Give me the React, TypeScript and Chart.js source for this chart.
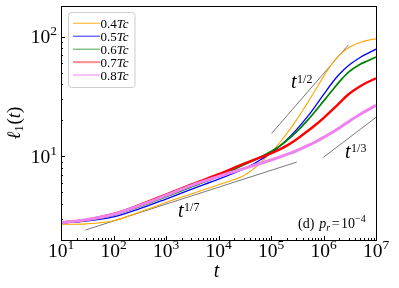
import React, { useEffect, useRef } from "react";
import { Chart, registerables } from "chart.js";

Chart.register(...registerables);

// ---- data ----
const times = [10, 30, 100, 300, 1e3, 3e3, 1e4, 3e4, 5e4, 1e5, 1.5e5, 2e5, 3e5, 5e5, 7e5, 1e6, 1.5e6, 2e6, 3e6, 5e6, 7e6, 1e7];
const series04 = [2.7, 2.73, 2.9, 3.4, 4.12, 4.85, 5.8, 6.9, 8.05, 10.8, 13.2, 15.5, 19.9, 28.2, 35.9, 46.5, 60.4, 70.2, 81.1, 89.7, 93.4, 96.2];
const series05 = [2.77, 2.88, 3.12, 3.62, 4.4, 5.3, 6.45, 7.87, 8.81, 10.7, 12.3, 13.8, 16.6, 21.6, 26.3, 32.8, 41.9, 48.6, 57.6, 67.2, 72.8, 78.8];
const series06 = [2.79, 2.93, 3.23, 3.78, 4.6, 5.55, 6.8, 8.47, 9.38, 11.0, 12.3, 13.6, 15.9, 20.1, 23.9, 29.0, 36.1, 42.0, 50.6, 59.0, 63.1, 67.8];
const series07 = [2.8, 2.95, 3.3, 3.9, 4.8, 5.8, 7.1, 8.65, 9.44, 10.6, 11.5, 12.3, 13.8, 16.3, 18.3, 20.9, 24.7, 27.9, 33.1, 38.6, 41.9, 45.0];
const series08 = [2.8, 2.95, 3.28, 3.86, 4.72, 5.7, 6.8, 7.9, 8.47, 9.33, 9.91, 10.4, 11.1, 12.3, 13.2, 14.4, 16.0, 17.3, 19.5, 22.5, 24.5, 26.7];
const tempFactors = ["0.4", "0.5", "0.6", "0.7", "0.8"];
const seriesColors = ["#FFA500", "#0000FF", "#008000", "#FF0000", "#EE82EE"];
const legendColors = ["rgba(255,165,0,0.75)", "rgba(0,0,255,0.7)", "rgba(0,128,0,0.6)", "rgba(255,0,0,0.45)", "rgba(238,130,238,0.5)"];
const seriesWidths = [1.1, 1.3, 1.7, 2.4, 3.0];

// guide power-law lines: endpoints
const guide17T = [29, 3.1e5];
const guide17V = [2.42, 8.97];
const guide12T = [1.03e5, 2.97e6];
const guide12V = [15.6, 85.3];
const guide13T = [1e6, 1e7];
const guide13V = [9.85, 21.2];

const xTickExps = [1, 2, 3, 4, 5, 6, 7];
const yTickExps = [1, 2];
const xMin = 10, xMax = 1e7, yMin = 2.0, yMax = 181;

const SERIF = '"Liberation Serif", "DejaVu Serif", "Times New Roman", serif';

type Part = { s: string; size: number; italic?: boolean; dy?: number; dx?: number };

function fontOf(p: Part) {
  return `${p.italic ? "italic " : ""}${p.size}px ${SERIF}`;
}

function drawRich(ctx: CanvasRenderingContext2D, parts: Part[], x: number, y: number, align: "left" | "center" | "right") {
  let w = 0;
  for (const p of parts) {
    ctx.font = fontOf(p);
    w += ctx.measureText(p.s).width + (p.dx || 0);
  }
  let cx = align === "left" ? x : align === "center" ? x - w / 2 : x - w;
  ctx.textAlign = "left";
  ctx.textBaseline = "alphabetic";
  for (const p of parts) {
    cx += p.dx || 0;
    ctx.font = fontOf(p);
    ctx.fillText(p.s, cx, y + (p.dy || 0));
    cx += ctx.measureText(p.s).width;
  }
}

const decorPlugin = {
  id: "decor",
  afterDraw(chart: any) {
    const ctx: CanvasRenderingContext2D = chart.ctx;
    const xs = chart.scales.x;
    const ys = chart.scales.y;
    const a = chart.chartArea;
    ctx.save();
    // frame
    ctx.strokeStyle = "#000";
    ctx.lineWidth = 1;
    ctx.strokeRect(Math.round(a.left) + 0.5, Math.round(a.top) + 0.5, Math.round(a.right - a.left), Math.round(a.bottom - a.top));
    // x ticks
    ctx.beginPath();
    for (let k = 1; k <= 7; k++) {
      for (let m = 1; m <= 9; m++) {
        const v = m * Math.pow(10, k);
        if (v < xMin || v > xMax) continue;
        const px = Math.round(xs.getPixelForValue(v)) + 0.5;
        const len = m === 1 ? 4 : 2;
        ctx.moveTo(px, a.bottom);
        ctx.lineTo(px, a.bottom - len);
      }
    }
    // y ticks
    for (let k = 0; k <= 2; k++) {
      for (let m = 1; m <= 9; m++) {
        const v = m * Math.pow(10, k);
        if (v < yMin || v > yMax) continue;
        const py = Math.round(ys.getPixelForValue(v)) + 0.5;
        const len = m === 1 ? 4 : 2;
        ctx.moveTo(a.left, py);
        ctx.lineTo(a.left + len, py);
      }
    }
    ctx.stroke();

    ctx.fillStyle = "#000";
    // x tick labels
    for (const e of xTickExps) {
      const px = xs.getPixelForValue(Math.pow(10, e));
      drawRich(ctx, [{ s: "10", size: 19.5 }, { s: String(e), size: 13.5, dy: -8 }], px, a.bottom + 17, "center");
    }
    // y tick labels
    for (const e of yTickExps) {
      const py = ys.getPixelForValue(Math.pow(10, e));
      drawRich(ctx, [{ s: "10", size: 19.5 }, { s: String(e), size: 13.5, dy: -8 }], a.left - 4, py + 6.5, "right");
    }
    // axis titles
    drawRich(ctx, [{ s: "t", size: 20, italic: true }], (a.left + a.right) / 2 - 2, 277, "center");
    ctx.save();
    ctx.translate(20, (a.top + a.bottom) / 2);
    ctx.rotate(-Math.PI / 2);
    drawRich(
      ctx,
      [
        { s: "ℓ", size: 19, italic: true },
        { s: "1", size: 12, dy: 3 },
        { s: "(", size: 19, dx: 1 },
        { s: "t", size: 19, italic: true },
        { s: ")", size: 19 },
      ],
      0,
      0,
      "center"
    );
    ctx.restore();

    // annotations
    drawRich(ctx, [{ s: "t", size: 20, italic: true }, { s: "1/2", size: 12, dy: -5.5, dx: 0.5 }], 291, 88, "left");
    drawRich(ctx, [{ s: "t", size: 20, italic: true }, { s: "1/3", size: 12, dy: -6, dx: 0.5 }], 345, 158, "left");
    drawRich(ctx, [{ s: "t", size: 20, italic: true }, { s: "1/7", size: 12, dy: -6, dx: 0.5 }], 178, 217, "left");
    drawRich(
      ctx,
      [
        { s: "(d)", size: 14 },
        { s: "p", size: 14, italic: true, dx: 5 },
        { s: "r", size: 10, italic: true, dy: 3 },
        { s: "=", size: 14, dx: 1.5 },
        { s: "10", size: 14, dx: 1.5 },
        { s: "−4", size: 10, dy: -6 },
      ],
      298,
      228,
      "left"
    );

    // legend
    const lx = 68.5, ly = 12.5, lw = 66.5, lh = 75;
    ctx.beginPath();
    ctx.roundRect(lx, ly, lw, lh, 3);
    ctx.fillStyle = "rgba(255,255,255,0.85)";
    ctx.fill();
    ctx.strokeStyle = "#cccccc";
    ctx.lineWidth = 1;
    ctx.stroke();
    for (let i = 0; i < tempFactors.length; i++) {
      const cy = 23.3 + i * 12.95;
      ctx.beginPath();
      ctx.strokeStyle = legendColors[i];
      ctx.lineWidth = i >= 3 ? 2 : 1.2;
      ctx.moveTo(73, cy);
      ctx.lineTo(100, cy);
      ctx.stroke();
      ctx.fillStyle = "#000";
      drawRich(ctx, [{ s: tempFactors[i], size: 13 }, { s: "Tc", size: 13, italic: true }], 100.5, cy + 4.5, "left");
    }
    ctx.restore();
  },
};

function pts(t: number[], v: number[]) {
  return t.map((x, i) => ({ x, y: v[i] }));
}

export default function App() {
  const ref = useRef<HTMLCanvasElement | null>(null);
  useEffect(() => {
    document.body.style.margin = "0";
    const canvas = ref.current!;
    const allSeries = [series04, series05, series06, series07, series08];
    const curveSets = allSeries.map((s, i) => ({
      label: tempFactors[i] + "Tc",
      data: pts(times, s),
      borderColor: seriesColors[i],
      borderWidth: seriesWidths[i],
      pointRadius: 0,
      fill: false,
      cubicInterpolationMode: "monotone" as const,
      order: 6 - i,
    }));
    const guideStyle = { borderColor: "#555555", borderWidth: 0.8, pointRadius: 0, fill: false, tension: 0, order: 10 };
    const chart = new Chart(canvas, {
      type: "line",
      data: {
        datasets: [
          ...curveSets,
          { label: "g17", data: pts(guide17T, guide17V), ...guideStyle },
          { label: "g12", data: pts(guide12T, guide12V), ...guideStyle },
          { label: "g13", data: pts(guide13T, guide13V), ...guideStyle },
        ] as any,
      },
      options: {
        responsive: false,
        animation: false,
        devicePixelRatio: 1,
        layout: { padding: { left: 61, right: 23, top: 6, bottom: 48 } },
        scales: {
          x: { type: "logarithmic", min: xMin, max: xMax, display: false },
          y: { type: "logarithmic", min: yMin, max: yMax, display: false },
        },
        plugins: { legend: { display: false }, tooltip: { enabled: false } },
      },
      plugins: [decorPlugin],
    });
    return () => chart.destroy();
  }, []);
  return <canvas ref={ref} width={399} height={288} style={{ display: "block" }} />;
}
